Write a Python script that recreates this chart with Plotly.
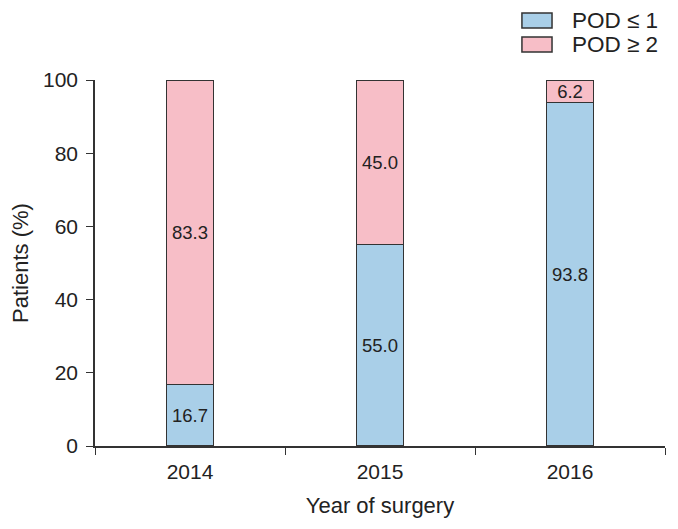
import plotly.graph_objects as go

years = ["2014", "2015", "2016"]
pod_le1 = [16.7, 55.0, 93.8]
pod_ge2 = [83.3, 45.0, 6.2]
y_ticks = [0, 20, 40, 60, 80, 100]
series_names = ["POD \u2264 1", "POD \u2265 2"]
series_colors = ["#a9cfe8", "#f7bec7"]

font_family = "Liberation Sans, Arial, sans-serif"
edge = "#333333"

fig = go.Figure()
for name, vals, col in zip(series_names, [pod_le1, pod_ge2], series_colors):
    fig.add_trace(go.Bar(
        x=years, y=vals, name=name,
        marker=dict(color=col, line=dict(color=edge, width=1.2)),
        text=[f"{v:.1f}" for v in vals], textposition="inside",
        insidetextanchor="middle", constraintext="none",
        textfont=dict(size=18.5, color="#222222"),
        width=0.25, showlegend=False,
    ))

# legend drawn as swatches + labels in the top margin
sw_x0, sw_x1 = 0.749, 0.8018
sw_rows = [(1.142, 1.183), (1.0765, 1.1175)]
for (y0, y1), name, col in zip(sw_rows, series_names, series_colors):
    fig.add_shape(type="rect", xref="paper", yref="paper",
                  x0=sw_x0, x1=sw_x1, y0=y0, y1=y1,
                  fillcolor=col, line=dict(color=edge, width=1.5))
    fig.add_annotation(xref="paper", yref="paper", x=0.833, y=(y0 + y1) / 2,
                       xanchor="left", yanchor="middle", text=name,
                       showarrow=False, font=dict(size=22.5, color="#222222"))

fig.update_layout(
    barmode="stack",
    width=678, height=529,
    margin=dict(l=87, r=21, t=72, b=91, autoexpand=False),
    paper_bgcolor="white", plot_bgcolor="white",
    font=dict(family=font_family, size=21, color="#222222"),
    showlegend=False,
)
fig.update_xaxes(
    automargin=False,
    showline=True, linecolor=edge, linewidth=1.5,
    ticks="outside", tickson="boundaries", ticklen=7, tickcolor=edge,
    tickfont=dict(size=21), ticklabelstandoff=6,
    title=dict(text="Year of surgery", font=dict(size=22), standoff=16),
)
fig.update_yaxes(
    automargin=False,
    range=[0, 100], tickvals=y_ticks,
    showline=True, linecolor=edge, linewidth=1.5,
    ticks="outside", ticklen=7, tickcolor=edge,
    showgrid=False, zeroline=False,
    tickfont=dict(size=21), ticklabelstandoff=4,
    title=dict(text="Patients (%)", font=dict(size=22), standoff=10),
)

fig.write_html("out.html")
